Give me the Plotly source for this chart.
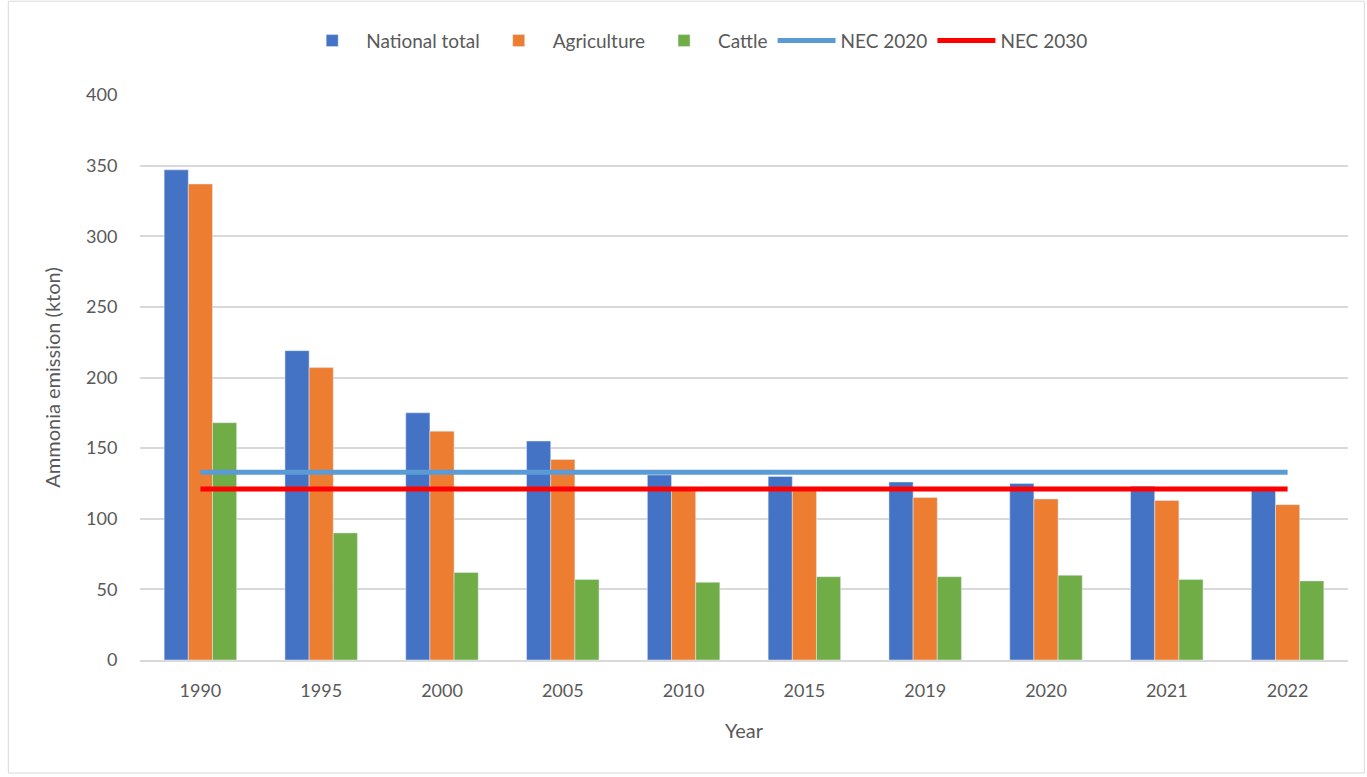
import plotly.graph_objects as go

# Ammonia emissions per year (kton)
years = ["1990", "1995", "2000", "2005", "2010", "2015", "2019", "2020", "2021", "2022"]
national_total = [347, 219, 175, 155, 131, 130, 126, 125, 123, 122]
agriculture = [337, 207, 162, 142, 120, 120, 115, 114, 113, 110]
cattle = [168, 90, 62, 57, 55, 59, 59, 60, 57, 56]

# NEC ceilings (kton)
nec_2020 = 133
nec_2030 = 121

font_family = "Lato, 'Open Sans', sans-serif"
text_grey = "#595959"

fig = go.Figure()
fig.add_trace(go.Bar(name="National total", x=years, y=national_total, marker_color="#4472C4"))
fig.add_trace(go.Bar(name="Agriculture", x=years, y=agriculture, marker_color="#ED7D31"))
fig.add_trace(go.Bar(name="Cattle", x=years, y=cattle, marker_color="#70AD47"))
fig.add_trace(go.Scatter(name="NEC 2020", x=years, y=[nec_2020] * len(years), mode="lines",
                         line=dict(color="#5B9BD5", width=5)))
fig.add_trace(go.Scatter(name="NEC 2030", x=years, y=[nec_2030] * len(years), mode="lines",
                         line=dict(color="#FF0000", width=5)))

fig.update_layout(
    width=1367, height=777,
    margin=dict(l=140, r=19, t=95, b=117),
    paper_bgcolor="white", plot_bgcolor="white",
    barmode="group", bargap=0.4, bargroupgap=0,
    font=dict(family=font_family, size=16, color=text_grey),
    legend=dict(orientation="h", x=0.46, xanchor="center", y=1.096, yanchor="middle",
                font=dict(size=19, color=text_grey), traceorder="normal",
                itemwidth=58),
    xaxis=dict(
        title=dict(text="Year", font=dict(size=20, color=text_grey), standoff=24),
        tickfont=dict(size=18, color=text_grey),
        showline=True, linecolor="#d9d9d9", linewidth=1.5,
        ticks="outside", ticklen=14, tickcolor="white", showgrid=False,
    ),
    yaxis=dict(
        title=dict(text="Ammonia emission (kton)", font=dict(size=20, color=text_grey), standoff=20),
        range=[0, 400], dtick=50,
        tickfont=dict(size=18, color=text_grey),
        gridcolor="#d9d9d9", gridwidth=1.5,
        zeroline=False, showline=False,
        ticks="outside", ticklen=18, tickcolor="white",
    ),
    shapes=[dict(type="rect", xref="paper", yref="paper",
                 x0=-0.109, x1=1.0135, y0=-0.2, y1=1.166,
                 line=dict(color="#d9d9d9", width=1), fillcolor="rgba(0,0,0,0)", layer="below")],
)

fig.write_html("out.html")
